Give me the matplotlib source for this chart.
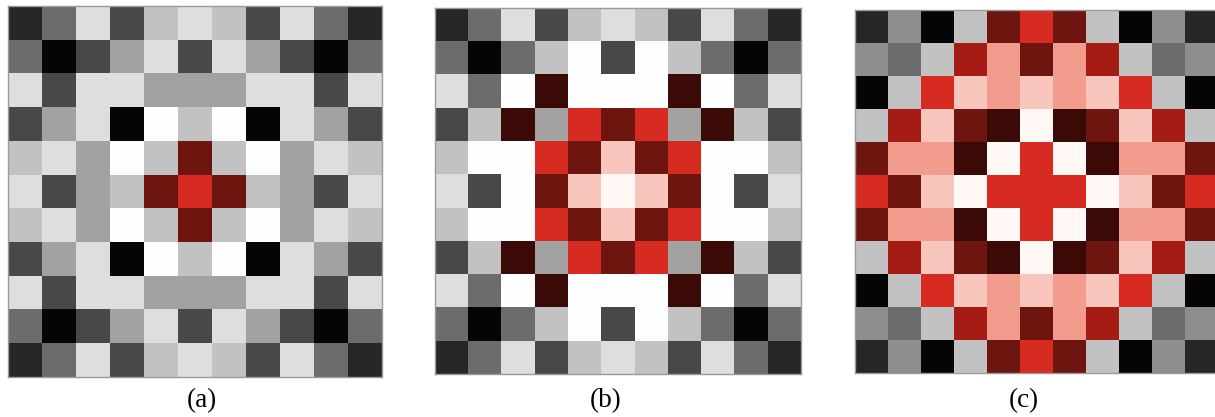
import matplotlib
matplotlib.use('Agg')
import matplotlib.pyplot as plt
import numpy as np
from matplotlib.colors import to_rgb

# +
# constant(s)
# -
PALETTE = {
    'K0': '#050505', 'K1': '#262626', 'K2': '#484848', 'K3': '#6c6c6c',
    'K4': '#a2a2a2', 'K5': '#c2c2c2', 'K6': '#dedede', 'W': '#fefefe',
    'G9': '#8e8e8e',
    'R1': '#3c0a06', 'R2': '#6e1510', 'R3': '#d72a20', 'R4': '#f29c8e',
    'R5': '#f9c6be', 'R6': '#fff8f4', 'R7': '#a41c14',
}

GRID_A = [
    'K1 K3 K6 K2 K5 K6 K5 K2 K6 K3 K1',
    'K3 K0 K2 K4 K6 K2 K6 K4 K2 K0 K3',
    'K6 K2 K6 K6 K4 K4 K4 K6 K6 K2 K6',
    'K2 K4 K6 K0 W K5 W K0 K6 K4 K2',
    'K5 K6 K4 W K5 R2 K5 W K4 K6 K5',
    'K6 K2 K4 K5 R2 R3 R2 K5 K4 K2 K6',
    'K5 K6 K4 W K5 R2 K5 W K4 K6 K5',
    'K2 K4 K6 K0 W K5 W K0 K6 K4 K2',
    'K6 K2 K6 K6 K4 K4 K4 K6 K6 K2 K6',
    'K3 K0 K2 K4 K6 K2 K6 K4 K2 K0 K3',
    'K1 K3 K6 K2 K5 K6 K5 K2 K6 K3 K1',
]

GRID_B = [
    'K1 K3 K6 K2 K5 K6 K5 K2 K6 K3 K1',
    'K3 K0 K3 K5 W K2 W K5 K3 K0 K3',
    'K6 K3 W R1 W W W R1 W K3 K6',
    'K2 K5 R1 K4 R3 R2 R3 K4 R1 K5 K2',
    'K5 W W R3 R2 R5 R2 R3 W W K5',
    'K6 K2 W R2 R5 R6 R5 R2 W K2 K6',
    'K5 W W R3 R2 R5 R2 R3 W W K5',
    'K2 K5 R1 K4 R3 R2 R3 K4 R1 K5 K2',
    'K6 K3 W R1 W W W R1 W K3 K6',
    'K3 K0 K3 K5 W K2 W K5 K3 K0 K3',
    'K1 K3 K6 K2 K5 K6 K5 K2 K6 K3 K1',
]

GRID_C = [
    'K1 G9 K0 K5 R2 R3 R2 K5 K0 G9 K1',
    'G9 K3 K5 R7 R4 R2 R4 R7 K5 K3 G9',
    'K0 K5 R3 R5 R4 R5 R4 R5 R3 K5 K0',
    'K5 R7 R5 R2 R1 R6 R1 R2 R5 R7 K5',
    'R2 R4 R4 R1 R6 R3 R6 R1 R4 R4 R2',
    'R3 R2 R5 R6 R3 R3 R3 R6 R5 R2 R3',
    'R2 R4 R4 R1 R6 R3 R6 R1 R4 R4 R2',
    'K5 R7 R5 R2 R1 R6 R1 R2 R5 R7 K5',
    'K0 K5 R3 R5 R4 R5 R4 R5 R3 K5 K0',
    'G9 K3 K5 R7 R4 R2 R4 R7 K5 K3 G9',
    'K1 G9 K0 K5 R2 R3 R2 K5 K0 G9 K1',
]

LABELS = ['(a)', '(b)', '(c)']

W, H = 1215, 417
# panel boxes in pixels: left, top, width, height
BOXES = [(8, 6, 374, 371), (435, 8, 366, 366), (855, 10, 363, 363)]
LABEL_X = [202, 606, 1024]


def to_image(_grid):
    return np.array([[to_rgb(PALETTE[c]) for c in row.split()] for row in _grid])


fig = plt.figure(figsize=(W / 100, H / 100), dpi=100)

for _grid, _box, _lab, _lx in zip([GRID_A, GRID_B, GRID_C], BOXES, LABELS, LABEL_X):
    l, t, w, h = _box
    ax = fig.add_axes([l / W, 1 - (t + h) / H, w / W, h / H])
    ax.imshow(to_image(_grid), interpolation='nearest', aspect='auto')
    ax.set_xticks([])
    ax.set_yticks([])
    for s in ax.spines.values():
        s.set_color('#9a9a9a')
        s.set_linewidth(1.0)
    fig.text(_lx / W, 1 - 401 / H, _lab, ha='center', va='center',
             fontsize=19.5, family=['Liberation Serif', 'DejaVu Serif'])

plt.savefig('out.png', dpi=100)
plt.close()
